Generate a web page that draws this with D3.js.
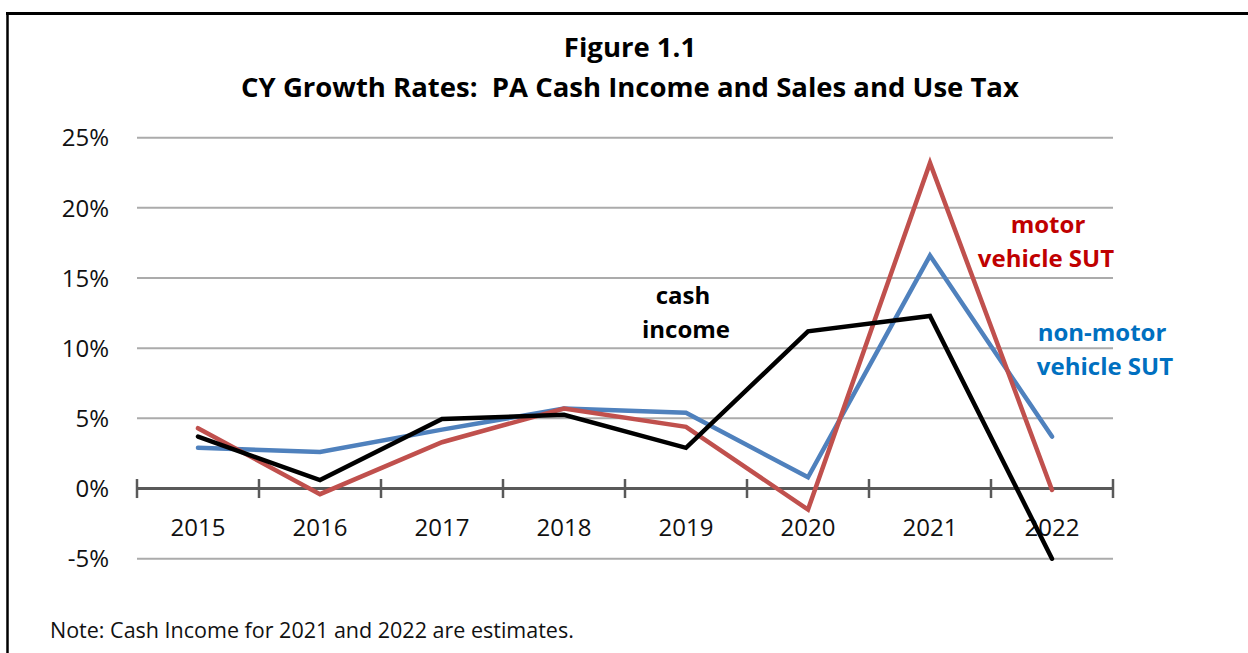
<!DOCTYPE html>
<html>
<head>
<meta charset="utf-8">
<script src="https://cdn.jsdelivr.net/npm/d3@7"></script>
<style>
  body { margin: 0; background: #fff; }
  text { font-family: "Open Sans", "Noto Sans", sans-serif; }
</style>
</head>
<body>
<svg id="chart"></svg>
<script>
    // Set dimensions
    const width = 1248;
    const height = 653;

    // Data (percent growth)
    const years = ["2015", "2016", "2017", "2018", "2019", "2020", "2021", "2022"];
    const nonMotorSUT = [2.9, 2.6, 4.2, 5.7, 5.4, 0.8, 16.6, 3.7];
    const motorSUT = [4.3, -0.4, 3.3, 5.7, 4.4, -1.5, 23.2, -0.1];
    const cashIncome = [3.7, 0.6, 4.95, 5.25, 2.9, 11.2, 12.3, -5.0];
    const yTicks = [-5, 0, 5, 10, 15, 20, 25];

    const series = [
        { name: "non-motor", values: nonMotorSUT, color: "#4F81BD" },
        { name: "motor", values: motorSUT, color: "#C0504D" },
        { name: "cash", values: cashIncome, color: "#000000" }
    ];

    const svg = d3.select("#chart")
        .attr("width", width)
        .attr("height", height);

    // Frame (top and left only)
    svg.append("line")
        .attr("x1", 6).attr("x2", width)
        .attr("y1", 13.5).attr("y2", 13.5)
        .attr("stroke", "#000").attr("stroke-width", 3);
    svg.append("line")
        .attr("x1", 7.5).attr("x2", 7.5)
        .attr("y1", 12).attr("y2", height)
        .attr("stroke", "#000").attr("stroke-width", 2.5);

    // Titles
    svg.append("text")
        .attr("x", 630).attr("y", 57)
        .attr("text-anchor", "middle")
        .attr("font-size", 27.5).attr("font-weight", "bold")
        .text("Figure 1.1");
    svg.append("text")
        .attr("x", 630).attr("y", 97)
        .attr("text-anchor", "middle")
        .attr("font-size", 27.5).attr("font-weight", "bold")
        .attr("xml:space", "preserve")
        .text("CY Growth Rates:  PA Cash Income and Sales and Use Tax");

    // Scales
    const x = d3.scaleBand().domain(years).range([137, 1113]);
    const y = d3.scaleLinear().domain([-5, 25]).range([558.7, 137.7]);

    // Gridlines
    svg.append("g")
        .selectAll("line")
        .data(yTicks.filter(d => d !== 0))
        .join("line")
        .attr("x1", 137).attr("x2", 1113)
        .attr("y1", d => y(d)).attr("y2", d => y(d))
        .attr("stroke", "#ABABAB").attr("stroke-width", 2);

    // Y tick labels
    svg.append("g")
        .selectAll("text")
        .data(yTicks)
        .join("text")
        .attr("x", 109)
        .attr("y", d => y(d))
        .attr("dy", "0.36em")
        .attr("text-anchor", "end")
        .attr("font-size", 24)
        .attr("fill", "#111")
        .text(d => d + "%");

    // Zero axis with crossing ticks at band edges
    const y0 = y(0);
    svg.append("line")
        .attr("x1", 137).attr("x2", 1113)
        .attr("y1", y0).attr("y2", y0)
        .attr("stroke", "#595959").attr("stroke-width", 3);
    const edges = years.map(d => x(d)).concat([x.range()[1]]);
    svg.append("g")
        .selectAll("line")
        .data(edges)
        .join("line")
        .attr("x1", d => d).attr("x2", d => d)
        .attr("y1", y0 - 9.5).attr("y2", y0 + 9.5)
        .attr("stroke", "#595959").attr("stroke-width", 2.5);

    // X labels
    svg.append("g")
        .selectAll("text")
        .data(years)
        .join("text")
        .attr("x", d => x(d) + x.bandwidth() / 2)
        .attr("y", 536)
        .attr("text-anchor", "middle")
        .attr("font-size", 24)
        .attr("fill", "#111")
        .text(d => d);

    // Lines
    const line = d3.line()
        .x((d, i) => x(years[i]) + x.bandwidth() / 2)
        .y(d => y(d));

    svg.append("g")
        .selectAll("path")
        .data(series)
        .join("path")
        .attr("d", d => line(d.values))
        .attr("fill", "none")
        .attr("stroke", d => d.color)
        .attr("stroke-width", 4.5)
        .attr("stroke-linejoin", "miter")
        .attr("stroke-linecap", "round");

    // Series labels
    const labels = [
        { text: "cash", x: 683, y: 304, color: "#000" },
        { text: "income", x: 686, y: 338, color: "#000" },
        { text: "motor", x: 1048, y: 233, color: "#C00000" },
        { text: "vehicle SUT", x: 1046, y: 267, color: "#C00000" },
        { text: "non-motor", x: 1102, y: 341, color: "#0070C0" },
        { text: "vehicle SUT", x: 1105, y: 375, color: "#0070C0" }
    ];
    svg.append("g")
        .selectAll("text")
        .data(labels)
        .join("text")
        .attr("x", d => d.x).attr("y", d => d.y)
        .attr("text-anchor", "middle")
        .attr("font-size", 24).attr("font-weight", "bold")
        .attr("fill", d => d.color)
        .text(d => d.text);

    // Note
    svg.append("text")
        .attr("x", 50).attr("y", 638)
        .attr("font-size", 21.5)
        .attr("fill", "#111")
        .text("Note: Cash Income for 2021 and 2022 are estimates.");
</script>
</body>
</html>
